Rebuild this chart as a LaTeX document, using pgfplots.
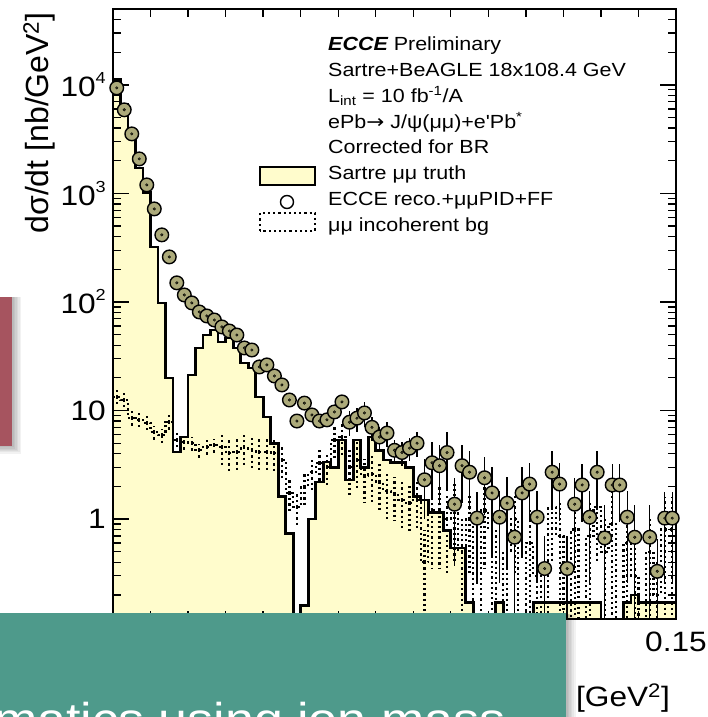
\documentclass[border=0pt]{standalone}
\usepackage{fontspec}
\setmainfont{Liberation Sans}
\newfontfamily\rootfont{Liberation Sans}[FakeStretch=1.13]
\newfontfamily\plainfont{Liberation Sans}
\newfontfamily\arrowfont{DejaVu Sans}[FakeStretch=1.13]
\usepackage{pgfplots}
\usepackage{pgfplotstable}
\pgfplotsset{compat=1.18}
\definecolor{yellowfill}{RGB}{255,252,204}
\definecolor{olivefill}{RGB}{172,170,122}
\definecolor{darkolive}{RGB}{70,70,40}
\definecolor{tealbox}{RGB}{78,154,139}
\definecolor{redbox}{RGB}{166,84,95}
\newcommand{\tickfont}{\rootfont\fontsize{28}{28}\selectfont}
\newcommand{\legfont}{\rootfont\fontsize{19}{19}\selectfont}
\newcommand{\sq}[1]{\raisebox{13pt}{\fontsize{16}{16}\selectfont #1}}

\pgfplotstableread{
x y
0.000 11120
0.002 6540
0.004 3610
0.006 1718
0.008 1011
0.010 321
0.012 98
0.014 19.9
0.016 4.15
0.018 5.70
0.020 21.2
0.022 37.7
0.024 49.6
0.026 55.2
0.028 42.8
0.030 46.6
0.032 37.7
0.034 27.4
0.036 24.6
0.038 13.3
0.040 8.7
0.042 5.0
0.044 1.6
0.046 0.74
0.048 0.01
0.050 0.16
0.052 1.0
0.054 2.19
0.056 3.35
0.058 3.0
0.060 5.35
0.062 2.29
0.064 5.35
0.066 3.0
0.068 5.7
0.070 4.3
0.072 3.5
0.074 3.3
0.076 3.3
0.078 3.0
0.080 1.6
0.082 1.5
0.084 1.14
0.086 1.14
0.088 0.79
0.090 0.54
0.092 0.54
0.094 0.17
0.096 0.01
0.098 0.01
0.100 0.01
0.102 0.17
0.104 0.01
0.106 0.01
0.108 0.01
0.110 0.01
0.112 0.17
0.114 0.17
0.116 0.17
0.118 0.17
0.120 0.17
0.122 0.17
0.124 0.17
0.126 0.17
0.128 0.17
0.130 0.01
0.132 0.01
0.134 0.01
0.136 0.17
0.138 0.2
0.140 0.17
0.142 0.17
0.144 0.17
0.146 0.17
0.148 0.17
0.150 0.17
}\truth

\pgfplotstableread{
x xc y ep em
0.000 0.001 13.3 2.0 2.0
0.002 0.003 12.5 1.9 1.9
0.004 0.005 8.5 1.3 1.3
0.006 0.007 8.2 1.2 1.2
0.008 0.009 7.7 1.15 1.15
0.010 0.011 6.3 0.95 0.95
0.012 0.013 5.9 0.9 0.9
0.014 0.015 7.8 1.2 1.2
0.016 0.017 5.35 0.8 0.8
0.018 0.019 5.1 0.77 0.77
0.020 0.021 5.0 0.75 0.75
0.022 0.023 4.3 0.65 0.65
0.024 0.025 4.6 0.7 0.7
0.026 0.027 4.8 0.72 0.72
0.028 0.029 4.6 1.6 1.6
0.030 0.031 4.06 1.4 1.4
0.032 0.033 4.15 1.45 1.45
0.034 0.035 4.6 1.6 1.6
0.036 0.037 4.3 1.5 1.5
0.038 0.039 4.15 1.45 1.45
0.040 0.041 4.15 1.45 1.45
0.042 0.043 4.06 1.4 1.4
0.044 0.045 3.5 1.2 1.2
0.046 0.047 1.74 0.6 0.6
0.048 0.049 1.29 0.45 0.45
0.050 0.051 1.97 0.7 0.7
0.052 0.053 2.7 0.95 0.95
0.054 0.055 3.3 1.15 1.15
0.056 0.057 3.0 1.05 1.05
0.058 0.059 5.35 1.9 1.9
0.060 0.061 5.7 2.0 2.0
0.062 0.063 3.0 1.35 1.35
0.064 0.065 3.5 1.6 1.6
0.066 0.067 2.5 1.1 1.1
0.068 0.069 2.6 1.2 1.2
0.070 0.071 2.2 1.0 1.0
0.072 0.073 1.8 0.8 0.8
0.074 0.075 1.7 0.75 0.75
0.076 0.077 1.5 0.7 0.7
0.078 0.079 1.4 0.63 0.63
0.080 0.081 1.5 0.68 0.68
0.082 0.083 0.4 0.4 0.39
0.084 0.085 1.2 0.85 0.85
0.086 0.087 1.2 0.85 0.85
0.088 0.089 1.0 0.7 0.7
0.090 0.091 1.3 0.9 0.9
0.092 0.093 0.5 0.5 0.49
0.094 0.095 1.0 0.7 0.7
0.096 0.097 0.01 0 0
0.098 0.099 1.2 0.85 0.85
0.100 0.101 0.8 0.8 0.79
0.102 0.103 0.01 0 0
0.104 0.105 0.5 0.5 0.49
0.106 0.107 1.0 0.7 0.7
0.108 0.109 0.01 0 0
0.110 0.111 0.6 0.6 0.59
0.112 0.113 0.3 0.3 0.29
0.114 0.115 0.01 0 0
0.116 0.117 1.3 0.9 0.9
0.118 0.119 0.7 0.7 0.69
0.120 0.121 0.01 0 0
0.122 0.123 0.8 0.8 0.79
0.124 0.125 0.01 0 0
0.126 0.127 0.7 0.7 0.69
0.128 0.129 1.3 0.9 0.9
0.130 0.131 0.5 0.5 0.49
0.132 0.133 0.9 0.9 0.89
0.134 0.135 0.01 0 0
0.136 0.137 0.6 0.6 0.59
0.138 0.139 0.3 0.3 0.29
0.140 0.141 0.01 0 0
0.142 0.143 0.5 0.5 0.49
0.144 0.145 0.2 0.2 0.19
0.146 0.147 0.8 0.8 0.79
0.148 0.149 0.8 0.8 0.79
0.150 0.151 0.8 0 0
}\bg

\pgfplotstableread{
x y ep em
0.001 9380 281 281
0.003 5890 177 177
0.005 3535 106 106
0.007 2080 62 62
0.009 1198 36 36
0.011 720 22 22
0.013 415 12 12
0.015 260 8 8
0.017 150 4.5 4.5
0.019 116 3.5 3.5
0.021 98 2.9 2.9
0.023 80.9 2.4 2.4
0.025 74.3 2.2 2.2
0.027 68.2 2.0 2.0
0.029 58.9 1.8 1.8
0.031 54.0 1.6 1.6
0.033 49.6 1.5 1.5
0.035 37.7 1.1 1.1
0.037 36.1 1.1 1.1
0.039 25.2 0.8 0.8
0.041 26.3 0.8 0.8
0.043 20.8 2.1 2.1
0.045 17.2 1.7 1.7
0.047 12.5 1.3 1.3
0.049 8.0 0.8 0.8
0.051 11.7 1.2 1.2
0.053 9.1 0.9 0.9
0.055 8.0 0.8 0.8
0.057 8.2 0.8 0.8
0.059 9.7 1.0 1.0
0.061 12.0 1.2 1.2
0.063 7.8 2.0 2.0
0.065 8.5 2.1 2.1
0.067 9.5 2.4 2.4
0.069 7.0 1.8 1.8
0.071 5.7 1.4 1.4
0.073 6.2 1.6 1.6
0.075 4.3 1.1 1.1
0.077 4.1 1.0 1.0
0.079 4.5 1.1 1.1
0.081 5.0 1.3 1.3
0.083 2.3 1.3 1.3
0.085 3.3 1.8 1.8
0.087 3.1 1.7 1.7
0.089 4.1 2.3 2.3
0.091 1.37 1.0 1.0
0.093 3.1 1.7 1.7
0.095 2.7 1.5 1.5
0.097 1.02 0.77 0.77
0.099 2.4 1.3 1.3
0.101 1.74 1.3 1.3
0.103 1.04 0.78 0.78
0.105 1.40 1.05 1.05
0.107 0.68 0.68 0.67
0.109 1.74 1.3 1.3
0.111 2.1 1.15 1.15
0.113 1.04 0.78 0.78
0.115 0.35 0.35 0.347
0.117 2.7 1.5 1.5
0.119 2.1 1.15 1.15
0.121 0.35 0.35 0.347
0.123 1.37 1.03 1.03
0.125 2.06 1.13 1.13
0.127 1.04 0.78 0.78
0.129 2.7 1.5 1.5
0.131 0.67 0.67 0.66
0.133 2.06 1.13 1.13
0.135 2.06 1.13 1.13
0.137 1.04 0.78 0.78
0.139 0.68 0.68 0.67
0.143 0.68 0.68 0.67
0.145 0.33 0.33 0.327
0.147 1.02 0.77 0.77
0.149 1.02 0.77 0.77
}\reco

\begin{document}
\begin{tikzpicture}[x=1pt,y=1pt]
\useasboundingbox (0,0) rectangle (707,717);
\begin{axis}[
  at={(113pt,98pt)}, anchor=south west,
  width=563pt, height=610pt, scale only axis,
  xmin=0, xmax=0.15, ymode=log, ymin=0.12, ymax=5e4,
  log origin y=infty,
  axis on top,
  axis line style={line width=1.6pt, black},
  xtick={0.15}, xticklabels={0.15},
  minor xtick={0.01,0.02,0.03,0.04,0.05,0.06,0.07,0.08,0.09,0.10,0.11,0.12,0.13,0.14},
  ytick={1,10,100,1000,10000},
  yticklabels={1,10,10\sq{2},10\sq{3},10\sq{4}},
  minor ytick={0.2,0.3,0.4,0.5,0.6,0.7,0.8,0.9,2,3,4,5,6,7,8,9,20,30,40,50,60,70,80,90,200,300,400,500,600,700,800,900,2000,3000,4000,5000,6000,7000,8000,9000,20000,30000,40000},
  major tick length=16pt, minor tick length=8pt,
  every tick/.style={line width=1.3pt, black},
  ticklabel style={font=\tickfont},
  yticklabel style={anchor=east, inner sep=0pt, xshift=-7pt},
  xticklabel style={anchor=north, inner sep=0pt, yshift=-13pt},
]
\addplot[const plot, fill=yellowfill, draw=none] table[x=x,y=y]{\truth} \closedcycle;
\addplot[const plot, black, line width=2.8pt, line join=miter] table[x=x,y=y]{\truth};
\addplot[const plot, black, line width=2.2pt, dash pattern=on 2.2pt off 3pt] table[x=x,y=y]{\bg};
\addplot[draw=none, mark=none, error bars/.cd, y dir=both, y explicit, error mark=none,
  error bar style={draw=black, line width=2.2pt, dash pattern=on 2.2pt off 3pt}]
  table[x=xc,y=y,y error plus=ep,y error minus=em]{\bg};
\addplot[draw=none, mark=none, error bars/.cd, y dir=both, y explicit, error mark=none,
  error bar style={draw=black, line width=1.4pt, solid}]
  table[x=x,y=y,y error plus=ep,y error minus=em]{\reco};
\addplot[only marks, mark=*, mark size=6.8pt, mark options={fill=olivefill, draw=black, line width=1.4pt}] table[x=x,y=y]{\reco};
\addplot[only marks, mark=*, mark size=1.3pt, mark options={fill=darkolive, draw=none}] table[x=x,y=y]{\reco};
\end{axis}

% axis titles
\node[rotate=90, anchor=base east, inner sep=0pt] at (48,705) {\plainfont\fontsize{32}{32}\selectfont dσ/dt [nb/GeV\textsuperscript{2}]};
\node[anchor=base east, inner sep=0pt] at (670,10) {\tickfont p\textsubscript{T}\textsuperscript{2} [GeV\textsuperscript{2}]};

% legend
\node[anchor=base west, inner sep=0pt] at (328,666.5) {\legfont{\bfseries\itshape ECCE} Preliminary};
\node[anchor=base west, inner sep=0pt] at (328,640.6) {\legfont Sartre+BeAGLE 18x108.4 GeV};
\node[anchor=base west, inner sep=0pt] at (328,614.8) {\legfont L\textsubscript{int} = 10 fb\textsuperscript{-1}/A};
\node[anchor=base west, inner sep=0pt] at (328,588.9) {\legfont ePb{\arrowfont →} J/ψ(μμ)+e'Pb\textsuperscript{*}};
\node[anchor=base west, inner sep=0pt] at (328,563.1) {\legfont Corrected for BR};
\node[anchor=base west, inner sep=0pt] at (328,537.2) {\legfont Sartre μμ truth};
\node[anchor=base west, inner sep=0pt] at (328,511.4) {\legfont ECCE reco.+μμPID+FF};
\node[anchor=base west, inner sep=0pt] at (328,485.5) {\legfont μμ incoherent bg};
\draw[fill=yellowfill, draw=black, line width=2.8pt] (260,532) rectangle (315,550);
\draw[black, line width=1.4pt] (287,515) circle (6.5);
\draw[black, line width=2.2pt, dash pattern=on 2.2pt off 3pt] (260,486) rectangle (315,504);

% overlay boxes from slide
\foreach \i in {1,...,6} {
  \fill[black, opacity=0.05] (-10,271-1.3*\i) rectangle (12+1.5*\i,420);
  \fill[black, opacity=0.05] (-10,-10) rectangle (566+1.6*\i,104-0.3*\i);
}
\fill[redbox] (-10,271) rectangle (12,420);
\fill[tealbox] (-10,-10) rectangle (566,104);
\node[anchor=base west, inner sep=0pt, text=white] at (-6,-18) {\rootfont\fontsize{46}{46}\selectfont matics using ion mass};
\end{tikzpicture}
\end{document}
